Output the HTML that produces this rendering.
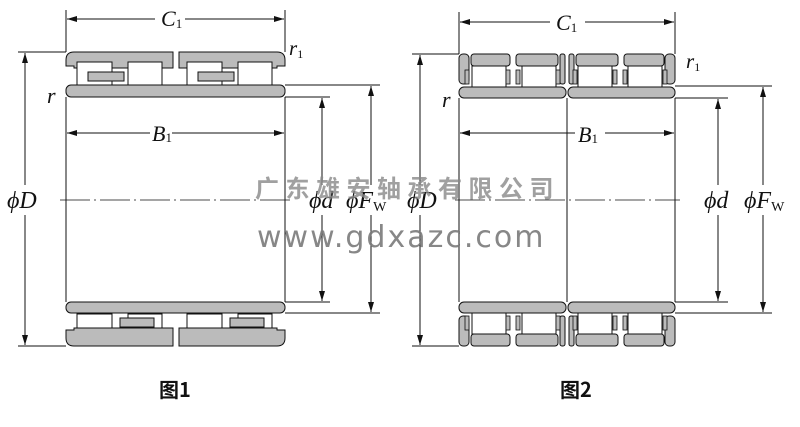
<!DOCTYPE html>
<html><head><meta charset="utf-8"><style>
html,body{margin:0;padding:0;background:#fff;}
svg{display:block}
.it{font-family:"Liberation Serif",serif;font-style:italic;fill:#111}
.rm{font-family:"Liberation Serif",serif;fill:#111}
</style></head><body>
<svg width="800" height="427" viewBox="0 0 800 427" xmlns="http://www.w3.org/2000/svg">
<defs>
<marker id="a" markerWidth="10" markerHeight="6" refX="10" refY="3" orient="auto-start-reverse" markerUnits="userSpaceOnUse"><path d="M0,0 L10,3 L0,6z" fill="#111"/></marker>
</defs>
<g stroke="#111" stroke-width="1" fill="none">
<!-- FIG 1 -->
<line x1="66" y1="10" x2="66" y2="52"/><line x1="285" y1="10" x2="285" y2="52"/>
<line x1="67" y1="19" x2="155" y2="19" marker-start="url(#a)"/><line x1="185" y1="19" x2="284" y2="19" marker-end="url(#a)"/>
<line x1="18" y1="52" x2="66" y2="52"/><line x1="18" y1="346" x2="66" y2="346"/>
<line x1="25" y1="53" x2="25" y2="185" marker-start="url(#a)"/><line x1="25" y1="215" x2="25" y2="345" marker-end="url(#a)"/>
<line x1="285" y1="97" x2="330" y2="97"/><line x1="285" y1="302" x2="330" y2="302"/>
<line x1="322" y1="98" x2="322" y2="185" marker-start="url(#a)"/><line x1="322" y1="215" x2="322" y2="301" marker-end="url(#a)"/>
<line x1="285" y1="85" x2="380" y2="85"/><line x1="285" y1="313" x2="380" y2="313"/>
<line x1="371" y1="86" x2="371" y2="185" marker-start="url(#a)"/><line x1="371" y1="215" x2="371" y2="312" marker-end="url(#a)"/>
<line x1="67" y1="133" x2="150" y2="133" marker-start="url(#a)"/><line x1="172" y1="133" x2="284" y2="133" marker-end="url(#a)"/>
<line x1="66" y1="97" x2="66" y2="302"/><line x1="285" y1="97" x2="285" y2="302"/>
<line x1="60" y1="200" x2="290" y2="200" stroke-dasharray="30,4,2,4" stroke-width="0.8"/>
<!-- fig1 top -->
<path d="M66,60 q0,-8 8,-8 h99 v16 h-99 v-2 h-8z" fill="#bbb"/>
<path d="M179,52 h98 q8,0 8,8 v6 h-8 v2 h-98z" fill="#bbb"/>
<rect x="77" y="62" width="35" height="23" fill="#fff"/><rect x="128" y="62" width="34" height="23" fill="#fff"/>
<rect x="187" y="62" width="35" height="23" fill="#fff"/><rect x="238" y="62" width="34" height="23" fill="#fff"/>
<rect x="88" y="72" width="36" height="9" fill="#bbb"/><rect x="198" y="72" width="36" height="9" fill="#bbb"/>
<rect x="66" y="85" width="219" height="12" rx="5" fill="#bbb"/>
<!-- fig1 bottom -->
<rect x="66" y="302" width="219" height="11" rx="5" fill="#bbb"/>
<rect x="77" y="314" width="35" height="21" fill="#fff"/><rect x="128" y="314" width="34" height="21" fill="#fff"/>
<rect x="187" y="314" width="35" height="21" fill="#fff"/><rect x="238" y="314" width="34" height="21" fill="#fff"/>
<rect x="120" y="318" width="34" height="9" fill="#bbb"/><rect x="230" y="318" width="34" height="9" fill="#bbb"/>
<path d="M66,338 v-8 h8 v-2 h99 v18 h-99 q-8,0 -8,-8z" fill="#bbb"/>
<path d="M179,328 h98 v2 h8 v8 q0,8 -8,8 h-98z" fill="#bbb"/>
<!-- FIG 2 -->
<line x1="459" y1="12" x2="459" y2="54"/><line x1="675" y1="12" x2="675" y2="54"/>
<line x1="460" y1="22" x2="550" y2="22" marker-start="url(#a)"/><line x1="585" y1="22" x2="674" y2="22" marker-end="url(#a)"/>
<line x1="412" y1="54" x2="459" y2="54"/><line x1="412" y1="346" x2="459" y2="346"/>
<line x1="420" y1="55" x2="420" y2="185" marker-start="url(#a)"/><line x1="420" y1="215" x2="420" y2="345" marker-end="url(#a)"/>
<line x1="675" y1="98" x2="728" y2="98"/><line x1="675" y1="302" x2="728" y2="302"/>
<line x1="718" y1="99" x2="718" y2="185" marker-start="url(#a)"/><line x1="718" y1="215" x2="718" y2="301" marker-end="url(#a)"/>
<line x1="675" y1="86" x2="772" y2="86"/><line x1="675" y1="313" x2="772" y2="313"/>
<line x1="763" y1="87" x2="763" y2="185" marker-start="url(#a)"/><line x1="763" y1="215" x2="763" y2="312" marker-end="url(#a)"/>
<line x1="460" y1="133" x2="575" y2="133" marker-start="url(#a)"/><line x1="605" y1="133" x2="674" y2="133" marker-end="url(#a)"/>
<line x1="459" y1="98" x2="459" y2="302"/><line x1="675" y1="98" x2="675" y2="302"/><line x1="567" y1="98" x2="567" y2="302"/>
<line x1="455" y1="200" x2="680" y2="200" stroke-dasharray="30,4,2,4" stroke-width="0.8"/>
<!-- fig2 -->
<g fill="#bbb">
<rect x="459" y="54" width="10" height="30" rx="4"/><rect x="471" y="54" width="39" height="12" rx="3"/><rect x="516" y="54" width="42" height="12" rx="3"/><rect x="560" y="54" width="5" height="30" rx="2"/>
<rect x="569" y="54" width="5" height="30" rx="2"/><rect x="576" y="54" width="42" height="12" rx="3"/><rect x="624" y="54" width="40" height="12" rx="3"/><rect x="665" y="54" width="10" height="30" rx="4"/>
<rect x="459" y="87" width="107" height="11" rx="5"/><rect x="568" y="87" width="107" height="11" rx="5"/>
<rect x="459" y="302" width="107" height="11" rx="5"/><rect x="568" y="302" width="107" height="11" rx="5"/>
<rect x="459" y="316" width="10" height="30" rx="4"/><rect x="471" y="334" width="39" height="12" rx="3"/><rect x="516" y="334" width="42" height="12" rx="3"/><rect x="560" y="316" width="5" height="30" rx="2"/>
<rect x="569" y="316" width="5" height="30" rx="2"/><rect x="576" y="334" width="42" height="12" rx="3"/><rect x="624" y="334" width="40" height="12" rx="3"/><rect x="665" y="316" width="10" height="30" rx="4"/>
</g>
<g fill="#fff">
<rect x="472" y="66" width="34" height="21"/><rect x="522" y="66" width="34" height="21"/><rect x="578" y="66" width="34" height="21"/><rect x="628" y="66" width="34" height="21"/>
<rect x="472" y="313" width="34" height="21"/><rect x="522" y="313" width="34" height="21"/><rect x="578" y="313" width="34" height="21"/><rect x="628" y="313" width="34" height="21"/>
</g>
<g fill="#bbb" stroke-width="0.8">
<rect x="465" y="70" width="4" height="14"/><rect x="506" y="70" width="4" height="14"/><rect x="516" y="70" width="4" height="14"/><rect x="556" y="70" width="4" height="14"/>
<rect x="573" y="70" width="4" height="14"/><rect x="613" y="70" width="4" height="14"/><rect x="623" y="70" width="4" height="14"/><rect x="663" y="70" width="4" height="14"/>
<rect x="465" y="316" width="4" height="14"/><rect x="506" y="316" width="4" height="14"/><rect x="516" y="316" width="4" height="14"/><rect x="556" y="316" width="4" height="14"/>
<rect x="573" y="316" width="4" height="14"/><rect x="613" y="316" width="4" height="14"/><rect x="623" y="316" width="4" height="14"/><rect x="663" y="316" width="4" height="14"/>
</g>
</g>
<!-- labels -->
<text x="161" y="26" class="it" font-size="22">C<tspan font-size="13" class="rm" font-style="normal" dy="2">1</tspan></text>
<text x="556" y="30" class="it" font-size="22">C<tspan font-size="13" class="rm" font-style="normal" dy="2">1</tspan></text>
<text x="289" y="55" class="it" font-size="21">r<tspan font-size="12" class="rm" font-style="normal" dy="3">1</tspan></text>
<text x="686" y="68" class="it" font-size="21">r<tspan font-size="12" class="rm" font-style="normal" dy="3">1</tspan></text>
<text x="47" y="103" class="it" font-size="22">r</text>
<text x="442" y="107" class="it" font-size="22">r</text>
<text x="152" y="141" class="it" font-size="22">B<tspan font-size="13" class="rm" font-style="normal" dy="1">1</tspan></text>
<text x="578" y="142" class="it" font-size="22">B<tspan font-size="13" class="rm" font-style="normal" dy="1">1</tspan></text>
<text x="7" y="208" class="it" font-size="24">ϕD</text>
<text x="407" y="208" class="it" font-size="24">ϕD</text>
<text x="309" y="208" class="it" font-size="24">ϕd</text>
<text x="704" y="208" class="it" font-size="24">ϕd</text>
<text x="346" y="208" class="it" font-size="24">ϕF<tspan font-size="14" class="rm" font-style="normal" dy="3">W</tspan></text>
<text x="744" y="208" class="it" font-size="24">ϕF<tspan font-size="14" class="rm" font-style="normal" dy="3">W</tspan></text>
<text x="255" y="197" font-family="'Noto Sans CJK SC',sans-serif" font-weight="bold" font-size="24" fill="#888" fill-opacity="0.8" letter-spacing="6.5">广东雄安轴承有限公司</text>
<text x="257" y="247" font-family="'DejaVu Sans','Liberation Sans',sans-serif" font-size="30" fill="#7a7a7a" fill-opacity="0.9" letter-spacing="2">www.gdxazc.com</text>
<text x="159" y="397" font-family="'Noto Sans CJK SC',sans-serif" font-weight="bold" font-size="20" fill="#111">图1</text>
<text x="560" y="397" font-family="'Noto Sans CJK SC',sans-serif" font-weight="bold" font-size="20" fill="#111">图2</text>
</svg>
</body></html>
